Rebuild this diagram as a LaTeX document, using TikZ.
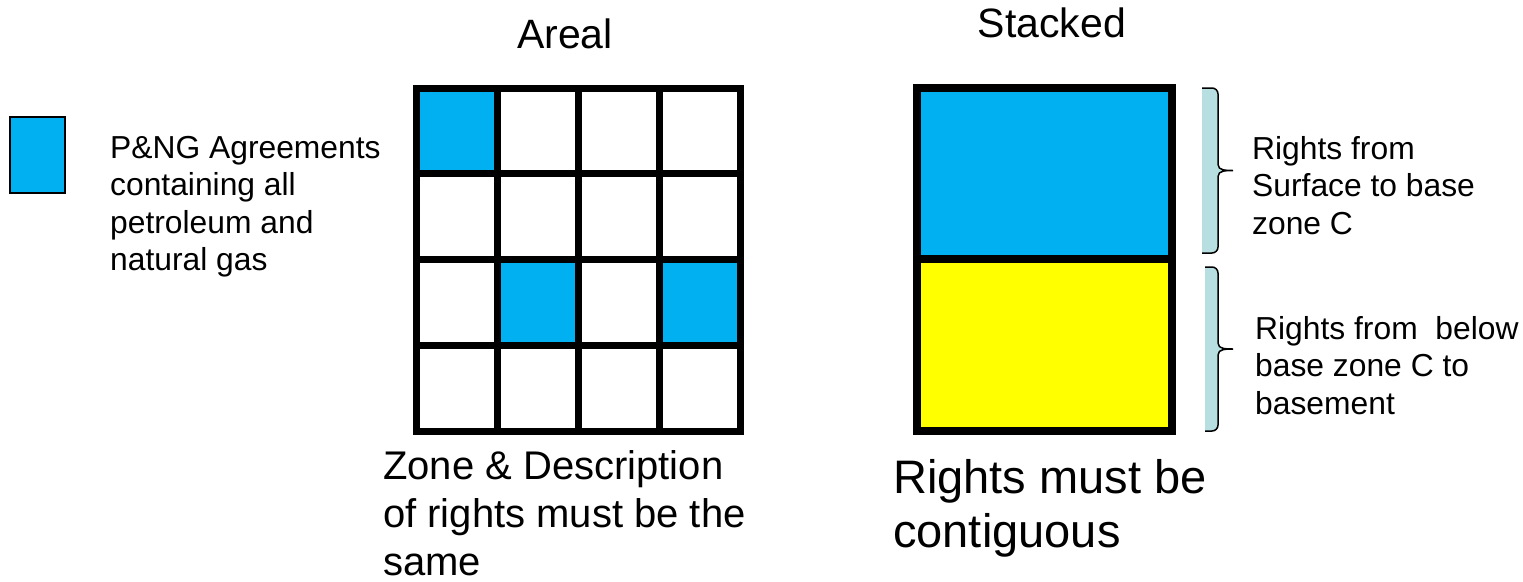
\documentclass[tikz,border=0pt]{standalone}
\usepackage{fontspec}
\setmainfont{Liberation Sans}
\usepackage{xcolor}
\usetikzlibrary{positioning}
\definecolor{pngblue}{HTML}{00B0F0}
\definecolor{zoneyellow}{HTML}{FFFF00}
\definecolor{bracefill}{HTML}{B7DEE0}

\begin{document}
\begin{tikzpicture}[x=1pt,y=-1pt,
  lbl/.style={inner sep=0pt,align=left,anchor=base west},
  title/.style={inner sep=0pt,anchor=base,font=\fontsize{41}{49}\selectfont},
  small/.style={font=\fontsize{31.8}{37.5}\selectfont}]
\useasboundingbox (0,0) rectangle (1523,581);

% legend (base = last line)
\draw[line width=1.5pt,fill=pngblue] (10,117) rectangle (65,193);
\node[lbl,small] (legend) at (110,270.5) {P\&NG Agreements\\containing all\\petroleum and\\natural gas};

% areal
\node[title] (areal) at (565,48) {Areal};
\foreach \c/\r in {0/0,1/2,3/2}
  \fill[pngblue] (416+81*\c,88+85.75*\r) rectangle ++(81,85.75);
\foreach \i in {0,...,4} {
  \draw[line width=7pt,line cap=rect] (416+81*\i,88) -- (416+81*\i,431);
  \draw[line width=7pt,line cap=rect] (416,88+85.75*\i) -- (740,88+85.75*\i);
}
\node[lbl,font=\fontsize{40}{48}\selectfont] (arealnote) at (383,575)
  {Zone \& Description\\of rights must be the\\same};

% stacked
\node[title] (stacked) at (1052,37) {Stacked};
\fill[pngblue] (917,88) rectangle (1172,259);
\fill[zoneyellow] (917,259) rectangle (1172,431);
\draw[line width=8pt] (917,88) rectangle (1172,431);
\draw[line width=8pt] (917,259) -- (1172,259);
\node[lbl,font=\fontsize{47}{54}\selectfont] (stackednote) at (893,547)
  {Rights must be\\contiguous};

% braces
\foreach \t/\b/\x in {88/253/1202,267/431/1205} {
  \pgfmathsetmacro\m{(\t+\b)/2}
  \draw[line width=1.5pt,fill=bracefill] (\x,\t) -- (1212,\t)
    to[out=0,in=90] (1218,\t+6) -- (1218,\m-6)
    to[out=-90,in=180] (1233,\m) to[out=180,in=90] (1218,\m+6)
    -- (1218,\b-6) to[out=-90,in=0] (1212,\b) -- (\x,\b);
}
\node[lbl,small] (upper) at (1252,234) {Rights from\\Surface to base\\zone C};
\node[lbl,small] (lower) at (1255,414) {Rights from\ \ below\\base zone C to\\basement};
\end{tikzpicture}
\end{document}
